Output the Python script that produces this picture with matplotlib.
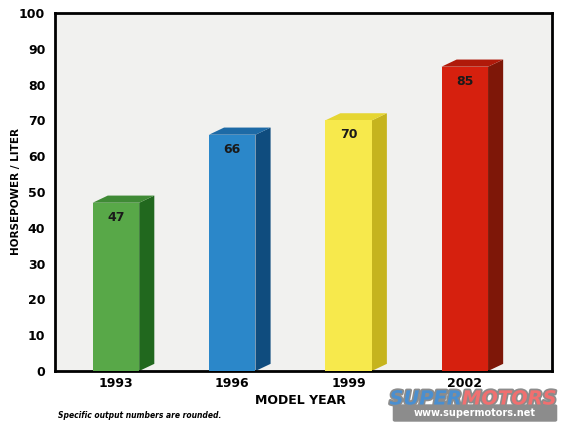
import matplotlib.pyplot as plt
import matplotlib.patheffects as pe
from matplotlib.patches import Polygon, FancyBboxPatch

years = ["1993", "1996", "1999", "2002"]
hp_per_liter = [47, 66, 70, 85]
front_colors = ["#58a848", "#2b87c9", "#f7e94c", "#d6200e"]
side_colors = ["#21681e", "#0f4c7e", "#c6b41e", "#7e1708"]
top_colors = ["#3f8a35", "#1d6aa6", "#e6d632", "#b01a0a"]

fig = plt.figure(figsize=(5.66, 4.28), dpi=100)
ax = fig.add_axes([55 / 566, 1 - 371 / 428, 497 / 566, 358 / 428])
ax.set_facecolor("#f1f1ef")

width = 0.40
dx, dy = 0.13, 2.0
x = list(range(len(years)))

bars = ax.bar(x, hp_per_liter, width=width, color=front_colors, zorder=3)
for xi, v, sc, tc in zip(x, hp_per_liter, side_colors, top_colors):
    l, r = xi - width / 2, xi + width / 2
    side = Polygon([(r, 0), (r + dx, dy), (r + dx, v + dy), (r, v)],
                   closed=True, facecolor=sc, edgecolor="none", zorder=2)
    top = Polygon([(l, v), (l + dx, v + dy), (r + dx, v + dy), (r, v)],
                  closed=True, facecolor=tc, edgecolor="none", zorder=2)
    ax.add_patch(side)
    ax.add_patch(top)
    ax.text(xi, v - 4, str(v), ha="center", va="center", fontsize=9,
            fontweight="bold", color="#1a1a1a", zorder=4)

ax.set_xlim(-0.524, 3.75)
ax.set_ylim(0, 100)
ax.set_yticks(range(0, 101, 10))
ax.set_xticks(x)
ax.set_xticklabels(years)
for lab in ax.get_xticklabels() + ax.get_yticklabels():
    lab.set_fontweight("bold")
    lab.set_fontsize(9)
ax.tick_params(axis="y", length=0, pad=7)
ax.tick_params(axis="x", length=0, pad=4)
for s in ax.spines.values():
    s.set_linewidth(2)
    s.set_color("black")

ax.set_ylabel("HORSEPOWER / LITER", fontsize=7.5, fontweight="bold")
ax.yaxis.set_label_coords(-0.068, 0.5)
fig.text(300 / 566, 1 - 401 / 428, "MODEL YEAR", ha="center", va="center",
         fontsize=9, fontweight="bold")
fig.text(58 / 566, 1 - 415 / 428, "Specific output numbers are rounded.",
         ha="left", va="center", fontsize=5.5, style="italic", fontweight="bold")

# watermark
fig.patches.append(FancyBboxPatch((395 / 566, 1 - 420 / 428), 160 / 566, 14 / 428,
                                  boxstyle="round,pad=0.004", transform=fig.transFigure,
                                  facecolor="#8c8c8c", edgecolor="none", zorder=0))
outline = [pe.withStroke(linewidth=2.5, foreground="#8c8c8c")]
fig.text(462 / 566, 1 - 399 / 428, "SUPER", ha="right", va="center", fontsize=14,
         fontweight="bold", style="italic", color="#4a8fd0", path_effects=outline)
fig.text(462 / 566, 1 - 399 / 428, "MOTORS", ha="left", va="center", fontsize=14,
         fontweight="bold", style="italic", color="#f07070", path_effects=outline)
fig.text(475 / 566, 1 - 412.5 / 428, "www.supermotors.net", ha="center", va="center",
         fontsize=7, fontweight="bold", color="white")

fig.savefig("out.png", dpi=100)
